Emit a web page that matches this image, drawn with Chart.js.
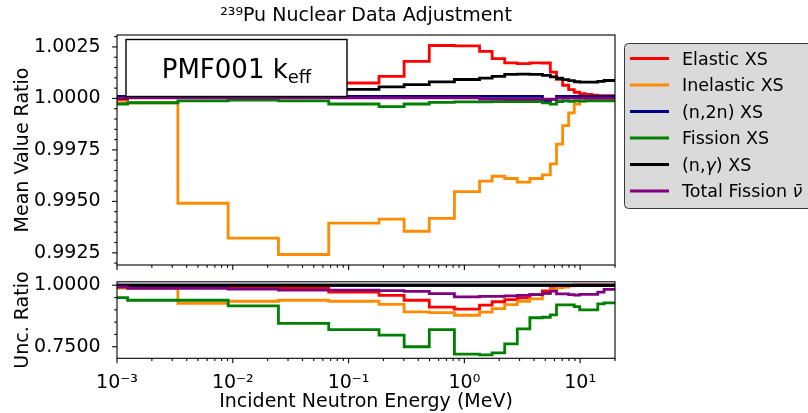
<!DOCTYPE html>
<html>
<head>
<meta charset="utf-8">
<script src="https://cdn.jsdelivr.net/npm/chart.js@4.4.1/dist/chart.umd.min.js"></script>
<style>
  html, body { margin: 0; padding: 0; background: #ffffff; }
  #wrap { position: relative; width: 808px; height: 413px; overflow: hidden; background: #ffffff; }
  canvas { position: absolute; left: 0; }
  #meanCanvas { top: 0; }
  #uncCanvas { top: 262px; }
</style>
</head>
<body>
<div id="wrap">
  <canvas id="meanCanvas" width="808" height="285"></canvas>
  <canvas id="uncCanvas" width="808" height="151"></canvas>
</div>
<script>
// Energy group boundaries (MeV); each value below holds from one edge to the next.
const groupEdgesMeV = [0.001, 0.001234, 0.003355, 0.009119, 0.02479, 0.06738, 0.1832, 0.302, 0.4979,
  0.8208, 1.353, 1.738, 2.231, 2.865, 3.679, 4.724, 5.53, 6.25, 7.06, 7.96, 8.9, 9.9, 11.1, 12.6,
  14.2, 16.1, 18.2, 20.0];

const seriesLabels = ['Elastic XS', 'Inelastic XS', '(n,2n) XS', 'Fission XS', '(n,\u03b3) XS', 'Total Fission \u03bd\u0304'];
const seriesColors = ['#ff0000', '#ff8c00', '#000080', '#008000', '#000000', '#800080'];

// Mean value ratio per group
const elasticMean = [0.99995, 1.0002, 1.0003, 1.0004, 1.0005, 1.00075, 1.00107, 1.0018, 1.00257, 1.00255,
  1.00228, 1.00193, 1.00173, 1.00169, 1.00173, 1.00172, 1.00128, 1.00093, 1.00064, 1.00043, 1.0003,
  1.00023, 1.00019, 1.00016, 1.00014, 1.00013, 1.00013];
const inelasticMean = [0.99979, 0.99979, 0.99491, 0.99322, 0.99242, 0.99394, 0.99414, 0.99355, 0.99417, 0.99547,
  0.99598, 0.99622, 0.99611, 0.99593, 0.99611, 0.99629, 0.99682, 0.99778, 0.99868, 0.99930, 0.99972,
  0.99987, 0.99992, 0.99995, 0.99997, 0.99998, 0.99998];
const n2nMean = [1.0001, 1.0001, 1.0001, 1.0001, 1.0001, 1.0001, 1.0001, 1.0001, 1.0001, 1.0001,
  1.0001, 1.0001, 1.0001, 1.0001, 1.0001, 0.99988, 0.99995, 1.0001, 1.0001, 1.0001, 1.0001,
  1.0001, 1.0001, 1.0001, 1.0001, 1.0001, 1.0001];
const fissionMean = [0.99973, 0.99979, 0.99988, 0.99992, 0.99988, 0.99973, 0.9996, 0.99973, 0.99981, 0.99983,
  0.99983, 0.99984, 0.99985, 0.99985, 0.99985, 0.99978, 0.99972, 0.99985, 0.99988, 0.99986, 0.99988,
  0.99987, 0.99988, 0.99988, 0.99988, 0.99988, 0.99988];
const captureMean = [1.00002, 1.0001, 1.00015, 1.0002, 1.0003, 1.00044, 1.00056, 1.00067, 1.0008, 1.00092,
  1.00099, 1.00107, 1.00117, 1.00118, 1.00117, 1.00112, 1.00105, 1.00098, 1.00091, 1.00086, 1.00081,
  1.00079, 1.00079, 1.00079, 1.00083, 1.00087, 1.00087];
const nubarMean = [1.00003, 1.00003, 1.00003, 1.00003, 1.00003, 1.00003, 1.00003, 1.00003, 1.00003, 1.00003,
  0.99997, 0.99997, 0.99997, 0.99997, 0.99997, 0.99997, 0.99997, 1.00001, 1.00001, 1.00001, 1.00001,
  1.00001, 1.00001, 1.00001, 1.00001, 1.00001, 1.00001];

// Uncertainty ratio per group
const elasticUnc = [0.994, 0.993, 0.993, 0.992, 0.990, 0.972, 0.959, 0.939, 0.911, 0.903,
  0.919, 0.933, 0.942, 0.949, 0.962, 0.977, 0.986, 0.995, 0.998, 0.999, 1.0,
  1.0, 1.0, 1.0, 1.0, 1.0, 1.0];
const inelasticUnc = [0.988, 0.988, 0.926, 0.935, 0.939, 0.935, 0.922, 0.892, 0.889, 0.878,
  0.891, 0.905, 0.921, 0.935, 0.945, 0.966, 0.982, 0.990, 0.993, 0.998, 1.0,
  1.0, 1.0, 1.0, 1.0, 1.0, 1.0];
const n2nUnc = [1.0, 1.0, 1.0, 1.0, 1.0, 1.0, 1.0, 1.0, 1.0, 1.0,
  1.0, 1.0, 1.0, 1.0, 1.0, 1.0, 1.0, 1.0, 1.0, 1.0, 1.0,
  1.0, 1.0, 1.0, 1.0, 1.0, 1.0];
const fissionUnc = [0.950, 0.939, 0.939, 0.916, 0.845, 0.820, 0.797, 0.750, 0.820, 0.720,
  0.717, 0.725, 0.762, 0.823, 0.868, 0.870, 0.880, 0.920, 0.920, 0.920, 0.913,
  0.900, 0.900, 0.900, 0.924, 0.928, 0.928];
const captureUnc = [1.0, 1.0, 1.0, 1.0, 1.0, 1.0, 1.0, 1.0, 1.0, 1.0,
  1.0, 1.0, 1.0, 1.0, 1.0, 1.0, 1.0, 1.0, 1.0, 1.0, 1.0,
  1.0, 1.0, 1.0, 1.0, 1.0, 1.0];
const nubarUnc = [0.993, 0.987, 0.987, 0.984, 0.980, 0.980, 0.978, 0.975, 0.966, 0.953,
  0.955, 0.955, 0.957, 0.959, 0.962, 0.967, 0.976, 0.965, 0.965, 0.962, 0.960,
  0.963, 0.963, 0.963, 0.972, 0.983, 0.983];

// Axis ticks
const energyTicks = [0.001, 0.01, 0.1, 1, 10];
const energyTickLabels = ['10\u207b\u00b3', '10\u207b\u00b2', '10\u207b\u00b9', '10\u2070', '10\u00b9'];
const energyMinorTicks = [0.002, 0.003, 0.004, 0.005, 0.006, 0.007, 0.008, 0.009,
  0.02, 0.03, 0.04, 0.05, 0.06, 0.07, 0.08, 0.09,
  0.2, 0.3, 0.4, 0.5, 0.6, 0.7, 0.8, 0.9,
  2, 3, 4, 5, 6, 7, 8, 9, 20];
const meanTicks = [0.9925, 0.9950, 0.9975, 1.0000, 1.0025];
const meanMinorTicks = [0.9920, 0.9930, 0.9935, 0.9940, 0.9945, 0.9955, 0.9960, 0.9965, 0.9970,
  0.9980, 0.9985, 0.9990, 0.9995, 1.0005, 1.0010, 1.0015, 1.0020, 1.0030];
const uncTicks = [0.75, 1.0];
const uncMinorTicks = [0.80, 0.85, 0.90, 0.95];

const FONT = 'DejaVu Sans';

function stepSeries(values) {
  return groupEdgesMeV.map((e, i) => ({ x: e, y: values[Math.min(i, values.length - 1)] }));
}

function buildDatasets(seriesList) {
  return seriesList.map((vals, i) => ({
    label: seriesLabels[i],
    data: stepSeries(vals),
    borderColor: seriesColors[i],
    backgroundColor: seriesColors[i],
    borderWidth: 2.8,
    pointRadius: 0,
    stepped: true,
    fill: false,
    borderJoinStyle: 'miter',
    order: seriesList.length - 1 - i
  }));
}

// Spines plus outward major/minor tick marks, positioned through the chart scales
const frameAndTicks = {
  id: 'frameAndTicks',
  afterDatasetsDraw(chart, args, opts) {
    const { ctx, chartArea: a, scales } = chart;
    ctx.save();
    ctx.strokeStyle = '#000';
    ctx.lineWidth = 1.1;
    const seg = (x1, y1, x2, y2) => { ctx.beginPath(); ctx.moveTo(x1, y1); ctx.lineTo(x2, y2); ctx.stroke(); };
    opts.yMajor.forEach(v => { const y = scales.y.getPixelForValue(v); seg(a.left - 4.9, y, a.left, y); });
    opts.yMinor.forEach(v => { const y = scales.y.getPixelForValue(v); seg(a.left - 2.8, y, a.left, y); });
    opts.xMajor.forEach(v => { const x = scales.x.getPixelForValue(v); seg(x, a.bottom, x, a.bottom + 4.9); });
    opts.xMinor.forEach(v => { const x = scales.x.getPixelForValue(v); seg(x, a.bottom, x, a.bottom + 2.8); });
    ctx.strokeRect(a.left, a.top, a.right - a.left, a.bottom - a.top);
    ctx.restore();
  }
};

// Boxed case label inside the upper panel
const caseLabel = {
  id: 'caseLabel',
  afterDatasetsDraw(chart) {
    const { ctx, chartArea: a } = chart;
    const bx = a.left + 9, by = a.top + 4.5, bw = 221, bh = 57;
    ctx.save();
    ctx.fillStyle = '#ffffff';
    ctx.fillRect(bx, by, bw, bh);
    ctx.strokeStyle = '#000';
    ctx.lineWidth = 1.4;
    ctx.strokeRect(bx, by, bw, bh);
    ctx.fillStyle = '#000';
    ctx.textBaseline = 'alphabetic';
    ctx.font = '26px "' + FONT + '"';
    const main = 'PMF001 k';
    const w1 = ctx.measureText(main).width;
    ctx.font = '18px "' + FONT + '"';
    const w2 = ctx.measureText('eff').width;
    const sx = bx + bw / 2 - (w1 + w2) / 2;
    const base = by + bh / 2 + 10;
    ctx.font = '26px "' + FONT + '"';
    ctx.fillText(main, sx, base);
    ctx.font = '18px "' + FONT + '"';
    ctx.fillText('eff', sx + w1, base + 5);
    ctx.restore();
  }
};

// Legend text: Greek symbols are set in italic, the rest upright
function drawLegendText(ctx, text, x, y) {
  const parts = text.split(/([\u0370-\u03ff]\u0304?)/).filter(p => p.length);
  let cx = x;
  parts.forEach(p => {
    const greek = /[\u0370-\u03ff]/.test(p);
    ctx.font = (greek ? 'italic ' : '') + '17.5px "' + FONT + '"';
    ctx.fillText(p, cx, y);
    cx += ctx.measureText(p).width;
  });
}

// Legend box on the right, built from the dataset labels and colours
const sideLegend = {
  id: 'sideLegend',
  afterDraw(chart) {
    const { ctx } = chart;
    const x0 = 624.5, y0 = 43.5, y1 = 208.5, x1 = 840, r = 4;
    ctx.save();
    ctx.beginPath();
    ctx.moveTo(x0 + r, y0);
    ctx.lineTo(x1, y0);
    ctx.lineTo(x1, y1);
    ctx.lineTo(x0 + r, y1);
    ctx.arcTo(x0, y1, x0, y1 - r, r);
    ctx.lineTo(x0, y0 + r);
    ctx.arcTo(x0, y0, x0 + r, y0, r);
    ctx.closePath();
    ctx.fillStyle = '#dadada';
    ctx.fill();
    ctx.strokeStyle = '#3a3a3a';
    ctx.lineWidth = 1;
    ctx.stroke();
    ctx.textBaseline = 'alphabetic';
    chart.data.datasets.forEach((ds, i) => {
      const y = 58.5 + i * 26.5;
      ctx.strokeStyle = ds.borderColor;
      ctx.lineWidth = 2.8;
      ctx.beginPath();
      ctx.moveTo(630, y);
      ctx.lineTo(669, y);
      ctx.stroke();
      ctx.fillStyle = '#000';
      drawLegendText(ctx, ds.label, 682, y + 6.4);
    });
    ctx.restore();
  }
};

const tickFont = { family: FONT, size: 19 };

new Chart(document.getElementById('meanCanvas'), {
  type: 'line',
  data: { datasets: buildDatasets([elasticMean, inelasticMean, n2nMean, fissionMean, captureMean, nubarMean]) },
  options: {
    responsive: false,
    devicePixelRatio: 1,
    animation: false,
    events: [],
    layout: { padding: { left: 0, right: 193, top: 0, bottom: 0 } },
    plugins: {
      legend: { display: false },
      tooltip: { enabled: false },
      title: {
        display: true,
        fullSize: false,
        text: '\u00b2\u00b3\u2079Pu Nuclear Data Adjustment',
        color: '#000',
        font: { family: FONT, size: 19, weight: 'normal' },
        padding: { top: 5, bottom: 7.2 }
      },
      frameAndTicks: { yMajor: meanTicks, yMinor: meanMinorTicks, xMajor: energyTicks, xMinor: energyMinorTicks }
    },
    scales: {
      x: {
        type: 'logarithmic',
        min: 0.001,
        max: 20,
        grid: { display: false },
        border: { display: false },
        ticks: { display: false },
        afterFit: s => { s.height = 20; }
      },
      y: {
        min: 0.99191,
        max: 1.00308,
        grid: { display: false },
        border: { display: false },
        afterBuildTicks: s => { s.ticks = meanTicks.map(v => ({ value: v })); },
        ticks: {
          autoSkip: false,
          color: '#000',
          font: tickFont,
          padding: 8.4,
          callback: v => Number(v).toFixed(4)
        },
        title: {
          display: true,
          text: 'Mean Value Ratio',
          color: '#000',
          font: tickFont,
          padding: { top: 12, bottom: 0 }
        },
        afterFit: s => { s.width = 117; }
      }
    }
  },
  plugins: [frameAndTicks, caseLabel, sideLegend]
});

new Chart(document.getElementById('uncCanvas'), {
  type: 'line',
  data: { datasets: buildDatasets([elasticUnc, inelasticUnc, n2nUnc, fissionUnc, captureUnc, nubarUnc]) },
  options: {
    responsive: false,
    devicePixelRatio: 1,
    animation: false,
    events: [],
    layout: { padding: { left: 0, right: 193, top: 19.5, bottom: 0 } },
    plugins: {
      legend: { display: false },
      tooltip: { enabled: false },
      frameAndTicks: { yMajor: uncTicks, yMinor: uncMinorTicks, xMajor: energyTicks, xMinor: energyMinorTicks }
    },
    scales: {
      x: {
        type: 'logarithmic',
        min: 0.001,
        max: 20,
        grid: { display: false },
        border: { display: false },
        afterBuildTicks: s => { s.ticks = energyTicks.map(v => ({ value: v })); },
        ticks: {
          autoSkip: false,
          maxRotation: 0,
          color: '#000',
          font: tickFont,
          padding: 5.4,
          callback: (v, i) => energyTickLabels[i]
        },
        title: {
          display: true,
          text: 'Incident Neutron Energy (MeV)',
          color: '#000',
          font: tickFont,
          padding: { top: 0, bottom: 0 }
        },
        afterFit: s => { s.height = 54.7; }
      },
      y: {
        min: 0.703,
        max: 1.0141,
        grid: { display: false },
        border: { display: false },
        afterBuildTicks: s => { s.ticks = uncTicks.map(v => ({ value: v })); },
        ticks: {
          autoSkip: false,
          color: '#000',
          font: tickFont,
          padding: 8.4,
          callback: v => Number(v).toFixed(4)
        },
        title: {
          display: true,
          text: 'Unc. Ratio',
          color: '#000',
          font: tickFont,
          padding: { top: 12, bottom: 0 }
        },
        afterFit: s => { s.width = 117; }
      }
    }
  },
  plugins: [frameAndTicks]
});
</script>
</body>
</html>
